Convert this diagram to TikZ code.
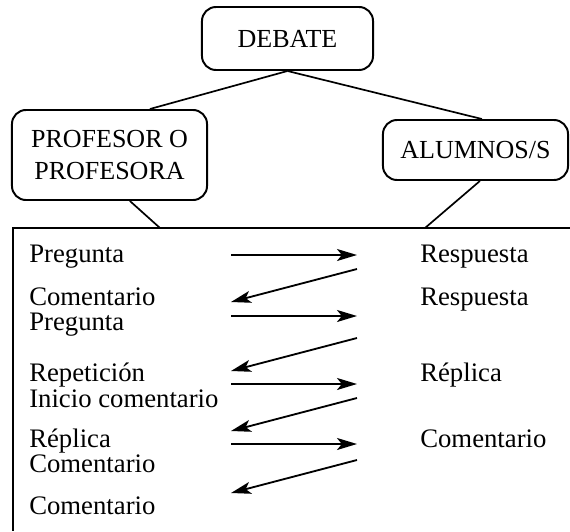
\documentclass[tikz,border=0pt]{standalone}
\usepackage{fontspec}
\setmainfont{Liberation Serif}
\usetikzlibrary{arrows.meta}

\begin{document}
\begin{tikzpicture}[x=0.025cm, y=-0.025cm]
            \tikzstyle{role box} = [draw, line width=1.4pt, rounded corners=0.35cm, inner sep=0pt, align=center, font=\fontsize{18.5}{22.8}\selectfont]
            \tikzstyle{link} = [line width=1.2pt]
            \tikzstyle{turn} = [font=\fontsize{19}{22}\selectfont, anchor=base west, inner sep=0pt]
            \tikzstyle{flow} = [line width=1.3pt, -{Stealth[length=0.5cm, width=0.3cm, inset=0.12cm]}]

            \useasboundingbox (0,0) rectangle (570,531);

            \node[role box, minimum width=4.275cm, minimum height=1.575cm] (debate) at (287.5,38.5) {DEBATE};
            \node[role box, minimum width=4.875cm, minimum height=2.25cm] (profesor) at (109.5,155) {PROFESOR O\\PROFESORA};
            \node[role box, minimum width=4.625cm, minimum height=1.5cm] (alumnos) at (475.5,150) {ALUMNOS/S};

            % marco de la tabla
            \coordinate (frameTL) at (13,228);
            \coordinate (pf) at (160,228);
            \coordinate (af) at (425,228);
            \draw[line width=1.3pt] (570,228) -- (frameTL) -- (13,531);

            \draw[link] (debate.south) -- ([xshift=1.01cm]profesor.north);
            \draw[link] (debate.south) -- ([xshift=0.16cm]alumnos.north);
            \draw[link] ([xshift=0.51cm]profesor.south) -- (pf);
            \draw[link] ([xshift=0.11cm]alumnos.south) -- (af);

            % intervenciones
            \node[turn] (p1) at (29,262) {Pregunta};
            \node[turn] (p2) at (29,305) {Comentario};
            \node[turn] (p3) at (29,330) {Pregunta};
            \node[turn] (p4) at (29,381) {Repetición};
            \node[turn] (p5) at (29,407) {Inicio comentario};
            \node[turn] (p6) at (29,447) {Réplica};
            \node[turn] (p7) at (29,472) {Comentario};
            \node[turn] (p8) at (29,514) {Comentario};

            \node[turn] (a1) at (420,262) {Respuesta};
            \node[turn] (a2) at (420,305) {Respuesta};
            \node[turn] (a3) at (420,381) {Réplica};
            \node[turn] (a4) at (420,447) {Comentario};

            \foreach \y [count=\i] in {255,316,384,444} {
                \coordinate (go\i) at (231,\y);
                \coordinate (to\i) at (357,\y);
                \draw[flow] (go\i) -- (to\i);
            }
            \foreach \y [count=\i] in {269,338,398,460} {
                \coordinate (back\i) at (357,\y);
                \coordinate (end\i) at (231,\y+33);
                \draw[flow] (back\i) -- (end\i);
            }
        \end{tikzpicture}
\end{document}
